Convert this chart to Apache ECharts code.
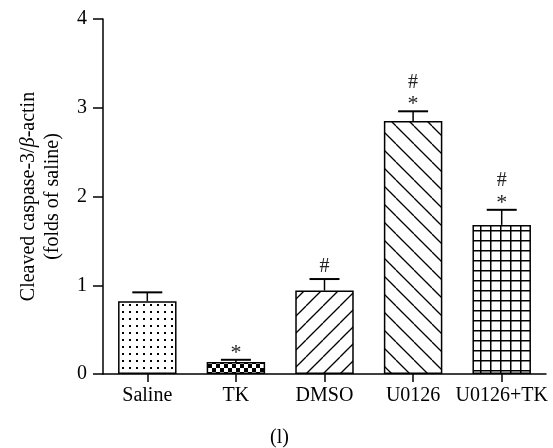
<!DOCTYPE html>
<html>
<head>
<meta charset="utf-8">
<script src="https://cdn.jsdelivr.net/npm/echarts@6/dist/echarts.min.js"></script>
<style>
html,body{margin:0;padding:0;background:#fff;}
#chart{width:553px;height:448px;}
</style>
</head>
<body>
<div id="chart"></div>
<script>
var categories = ['Saline', 'TK', 'DMSO', 'U0126', 'U0126+TK'];
var means = [0.82, 0.135, 0.94, 2.85, 1.68];
var errUpper = [0.92, 0.16, 1.07, 2.96, 1.85];
var starMarks = ['', '*', '', '*', '*'];
var hashMarks = ['', '', '#', '#', '#'];
var yTicks = [0, 1, 2, 3, 4];

var FONT = '"Liberation Serif", "Times New Roman", serif';

function makeTile(w, h, draw) {
  var c = document.createElement('canvas');
  c.width = w; c.height = h;
  var ctx = c.getContext('2d');
  ctx.fillStyle = '#fff';
  ctx.fillRect(0, 0, w, h);
  draw(ctx, w, h);
  return c;
}
var patDots = makeTile(7, 7, function (ctx) {
  ctx.fillStyle = '#000';
  ctx.fillRect(3, 3, 2, 2);
});
var patChecker = makeTile(8, 8, function (ctx) {
  ctx.fillStyle = '#000';
  ctx.fillRect(0, 0, 8, 8);
  ctx.fillStyle = '#fff';
  ctx.fillRect(0, 0, 4, 4);
  ctx.fillRect(4, 4, 4, 4);
});
var patFwd = makeTile(17, 17, function (ctx, w, h) {
  ctx.strokeStyle = '#000';
  ctx.lineWidth = 1.3;
  for (var k = -1; k <= 1; k++) {
    ctx.beginPath();
    ctx.moveTo(k * w, h);
    ctx.lineTo(k * w + w, 0);
    ctx.stroke();
  }
});
var patBack = makeTile(18, 18, function (ctx, w, h) {
  ctx.strokeStyle = '#000';
  ctx.lineWidth = 1.3;
  for (var k = -1; k <= 1; k++) {
    ctx.beginPath();
    ctx.moveTo(k * w, 0);
    ctx.lineTo(k * w + w, h);
    ctx.stroke();
  }
});
var patGrid = makeTile(10, 10, function (ctx) {
  ctx.fillStyle = '#000';
  ctx.fillRect(0, 0, 1.5, 10);
  ctx.fillRect(0, 0, 10, 1.5);
});
var patterns = [patDots, patChecker, patFwd, patBack, patGrid];

var chart = echarts.init(document.getElementById('chart'), null, {renderer: 'canvas'});

var barData = means.map(function (v, i) {
  return {
    value: v,
    itemStyle: {
      color: {image: patterns[i], repeat: 'repeat'},
      borderColor: '#000',
      borderWidth: 1.5
    }
  };
});

var errData = means.map(function (v, i) {
  return [i, v, errUpper[i], starMarks[i], hashMarks[i]];
});

var option = {
  animation: false,
  backgroundColor: '#fff',
  grid: {left: 103, right: 7, top: 19, bottom: 74},
  xAxis: {
    type: 'category',
    data: categories,
    axisLine: {lineStyle: {color: '#000', width: 1.5}},
    axisTick: {show: true, alignWithLabel: true, length: 8, lineStyle: {color: '#000', width: 1.5}},
    axisLabel: {color: '#000', fontFamily: FONT, fontSize: 20, margin: 12, interval: 0, hideOverlap: false}
  },
  yAxis: {
    type: 'value',
    min: yTicks[0],
    max: yTicks[yTicks.length - 1],
    interval: 1,
    splitLine: {show: false},
    axisLine: {show: true, lineStyle: {color: '#000', width: 1.5}},
    axisTick: {show: true, length: 10, lineStyle: {color: '#000', width: 1.5}},
    axisLabel: {color: '#000', fontFamily: FONT, fontSize: 20, margin: 16},
    name: '{n|Cleaved caspase-3/}{b|β}{n|-actin}\n{n|(folds of saline)}',
    nameLocation: 'middle',
    nameRotate: 90,
    nameGap: 38,
    nameTextStyle: {
      fontFamily: FONT,
      fontSize: 20,
      color: '#000',
      lineHeight: 24,
      rich: {
        n: {fontFamily: FONT, fontSize: 20, color: '#000', lineHeight: 24},
        b: {fontFamily: FONT, fontSize: 20, color: '#000', fontStyle: 'italic', lineHeight: 24}
      }
    }
  },
  series: [
    {
      type: 'bar',
      data: barData,
      barWidth: '66%',
      z: 2
    },
    {
      type: 'custom',
      data: errData,
      z: 3,
      renderItem: function (params, api) {
        var x = api.coord([api.value(0), 0])[0];
        var yTop = api.coord([api.value(0), api.value(1)])[1];
        var yHi = api.coord([api.value(0), api.value(2)])[1];
        var star = api.value(3);
        var hash = api.value(4);
        var children = [
          {type: 'line', shape: {x1: x, y1: yTop, x2: x, y2: yHi}, style: {stroke: '#000', lineWidth: 1.5}},
          {type: 'line', shape: {x1: x - 15, y1: yHi, x2: x + 15, y2: yHi}, style: {stroke: '#000', lineWidth: 2}}
        ];
        var yMark = yHi - 12;
        if (star) {
          children.push({type: 'text', style: {text: star, x: x, y: yMark + 5, align: 'center', verticalAlign: 'middle', font: '22px ' + FONT, fill: '#222'}});
          yMark -= 17;
        }
        if (hash) {
          children.push({type: 'text', style: {text: hash, x: x, y: yMark, align: 'center', verticalAlign: 'middle', font: '20px ' + FONT, fill: '#222'}});
        }
        return {type: 'group', children: children};
      }
    }
  ],
  graphic: [
    {type: 'text', left: 270, top: 428, style: {text: '(l)', font: '20px ' + FONT, fill: '#000'}}
  ]
};
chart.setOption(option);
</script>
</body>
</html>
